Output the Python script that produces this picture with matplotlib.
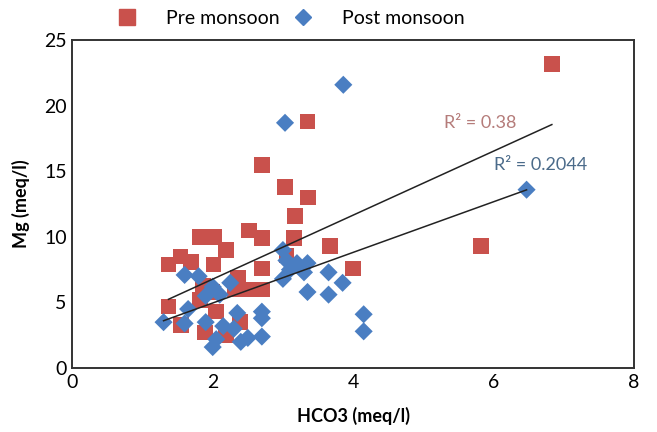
import numpy as np
from matplotlib import pyplot as plt
from matplotlib.lines import Line2D

plt.rcParams['font.family'] = ['Lato', 'DejaVu Sans']

# Pre monsoon (HCO3, Mg) in meq/l
pre_x = [6.83, 3.35, 2.70, 3.03, 3.36, 3.17, 2.52, 2.70, 1.82, 2.02, 2.19, 1.54, 1.37, 1.69,
         2.01, 3.16, 3.67, 4.00, 5.82, 2.70, 2.36, 1.86, 2.50, 2.70, 2.32, 1.37, 1.55, 1.89,
         2.05, 2.39, 2.19, 1.82, 2.00, 3.05]
pre_y = [23.2, 18.8, 15.5, 13.8, 13.0, 11.6, 10.5, 9.9, 10.0, 10.0, 9.0, 8.5, 7.9, 8.1,
         7.9, 9.9, 9.3, 7.6, 9.3, 7.6, 6.9, 6.3, 6.0, 6.0, 6.0, 4.7, 3.3, 2.7,
         4.3, 3.5, 2.5, 5.2, 5.8, 8.6]

# Post monsoon
post_x = [6.47, 3.86, 3.03, 3.00, 3.05, 3.10, 3.00, 3.20, 3.30, 3.35, 3.35, 3.65, 3.65, 3.85,
          4.15, 4.15, 2.70, 2.70, 2.70, 2.50, 2.40, 2.35, 2.30, 2.15, 2.00, 2.05, 1.90,
          1.65, 1.30, 1.60, 1.80, 1.60, 2.00, 2.10, 1.90, 2.25]
post_y = [13.6, 21.6, 18.7, 9.0, 8.2, 7.5, 6.8, 8.0, 7.3, 8.0, 5.8, 7.3, 5.6, 6.5,
          4.1, 2.8, 4.3, 3.8, 2.4, 2.3, 2.0, 4.2, 3.0, 3.2, 1.6, 2.2, 3.5,
          4.5, 3.5, 3.4, 7.0, 7.1, 6.2, 5.6, 5.5, 6.5]

# trendlines (slope, intercept)
pre_fit = (2.44, 1.9)
post_fit = (1.93, 1.1)

red = '#C9514C'
blue = '#4A7EC2'

fig = plt.figure(figsize=(6.57, 4.32), dpi=100)
ax = fig.add_axes([0.110, 0.148, 0.855, 0.759])

ax.scatter(pre_x, pre_y, marker='s', s=125, color=red, edgecolors='none', zorder=2)
ax.scatter(post_x, post_y, marker='D', s=85, color=blue, edgecolors='none', zorder=3)

xs = np.array([min(pre_x), max(pre_x)])
ax.plot(xs, pre_fit[0] * xs + pre_fit[1], color='#222222', lw=1.1, zorder=4)
xs = np.array([min(post_x), max(post_x)])
ax.plot(xs, post_fit[0] * xs + post_fit[1], color='#222222', lw=1.1, zorder=4)

ax.text(5.3, 18.3, 'R² = 0.38', color='#B57C7A', fontsize=13, zorder=5)
ax.text(6.0, 15.1, 'R² = 0.2044', color='#4B6B8A', fontsize=13, zorder=5)

ax.set_xlim(0, 8)
ax.set_ylim(0, 25)
ax.set_xticks([0, 2, 4, 6, 8])
ax.set_yticks([0, 5, 10, 15, 20, 25])
ax.tick_params(length=0, labelsize=14, pad=4)
for s in ax.spines.values():
    s.set_linewidth(1.4)
    s.set_color('#333333')

ax.set_xlabel('HCO3 (meq/l)', fontsize=13, fontweight='bold', labelpad=12)
ax.set_ylabel('Mg (meq/l)', fontsize=13, fontweight='bold', labelpad=10)

handles = [Line2D([], [], marker='s', ls='none', color=red, ms=11),
           Line2D([], [], marker='D', ls='none', color=blue, ms=8)]
fig.legend(handles, ['Pre monsoon', 'Post monsoon'], ncol=2, frameon=False,
           loc='center', bbox_to_anchor=(0.435, 0.958), fontsize=14,
           handletextpad=1.0, columnspacing=0.2)

fig.savefig('out.png', dpi=100)
